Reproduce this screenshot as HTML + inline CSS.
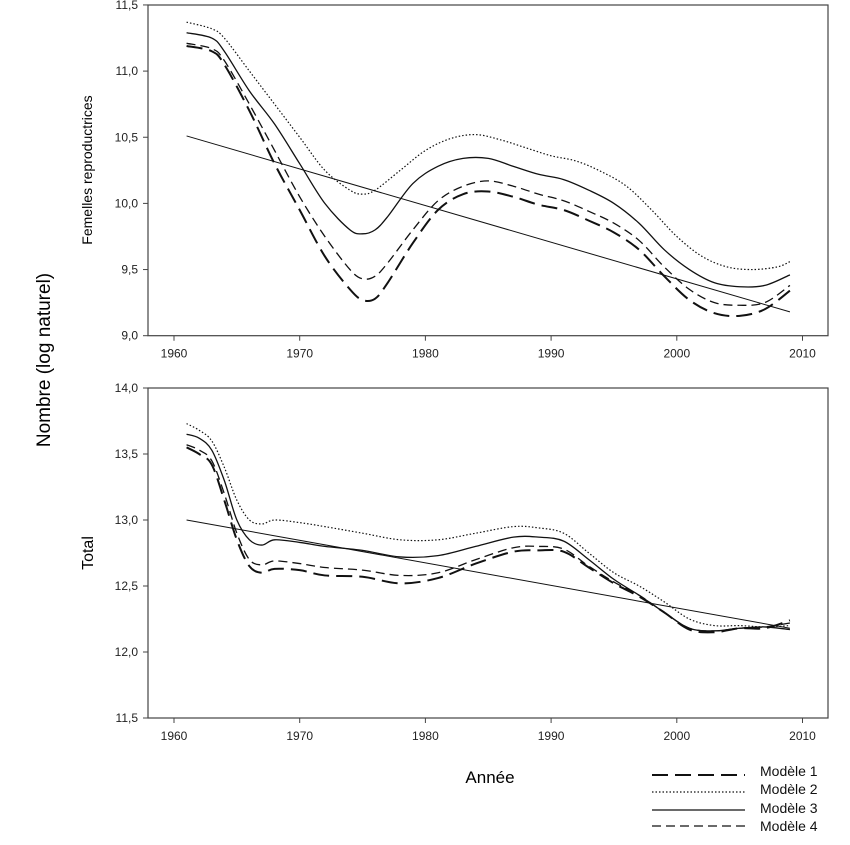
<!DOCTYPE html>
<html><head><meta charset="utf-8"><style>
body{margin:0;background:#fff;width:850px;height:840px;overflow:hidden}
svg{font-family:"Liberation Sans",sans-serif}
</style></head><body>
<svg id="s" width="850" height="840" xmlns="http://www.w3.org/2000/svg">
<rect x="148" y="5" width="680" height="330.7" fill="none" stroke="#444" stroke-width="1.2"/>
<rect x="148" y="388" width="680" height="330" fill="none" stroke="#444" stroke-width="1.2"/>
<g id="ax" font-size="12" fill="#222"></g>
<g id="series" fill="none" stroke="#111"></g>
<text x="92" y="170" font-size="14" transform="rotate(-90 92 170)" text-anchor="middle">Femelles reproductrices</text>
<text x="93" y="553" font-size="16" transform="rotate(-90 93 553)" text-anchor="middle">Total</text>
<text x="50" y="360" font-size="19" transform="rotate(-90 50 360)" text-anchor="middle">Nombre (log naturel)</text>
<text x="490" y="783" font-size="17" text-anchor="middle">Année</text>
<g font-size="14" fill="#111">
<text x="760" y="776">Modèle 1</text><text x="760" y="794">Modèle 2</text>
<text x="760" y="813">Modèle 3</text><text x="760" y="831">Modèle 4</text></g>
<g stroke="#111" fill="none">
<line x1="652" y1="775" x2="745" y2="775" stroke-width="2" stroke-dasharray="16,7"/>
<line x1="652" y1="792" x2="745" y2="792" stroke-width="1.2" stroke-dasharray="1.5,2"/>
<line x1="652" y1="810" x2="745" y2="810" stroke-width="1.3"/>
<line x1="652" y1="826" x2="745" y2="826" stroke-width="1.3" stroke-dasharray="9,5"/>
</g>
</svg>
<script>
(function(){
const NS="http://www.w3.org/2000/svg";
function X(yr){return 174+(yr-1960)*12.57}
function Yt(v){return 335.7-(v-9)*132.3}
function Yb(v){return 718-(v-11.5)*132}
const ax=document.getElementById('ax'),ser=document.getElementById('series');
function el(t,a,p,txt){const e=document.createElementNS(NS,t);for(const k in a)e.setAttribute(k,a[k]);if(txt!==undefined)e.textContent=txt;p.appendChild(e);return e}
[[335.7,Yt,[9,9.5,10,10.5,11,11.5]],[718,Yb,[11.5,12,12.5,13,13.5,14]]].forEach(function(c){
 const b=c[0],Y=c[1],vals=c[2];
 for(let yr=1960;yr<=2010;yr+=10){const x=X(yr);el('line',{x1:x,y1:b,x2:x,y2:b+5,stroke:'#444'},ax);el('text',{x:x,y:b+22,'text-anchor':'middle'},ax,String(yr))}
 vals.forEach(function(v){const y=Y(v);el('line',{x1:143,y1:y,x2:148,y2:y,stroke:'#444'},ax);el('text',{x:138,y:y+4,'text-anchor':'end'},ax,v.toFixed(1).replace('.',','))});
});
function path(pts,Y){const p=pts.map(function(q){return [X(q[0]),Y(q[1])]});let d='M'+p[0][0]+','+p[0][1];
 for(let i=0;i<p.length-1;i++){const p0=p[i-1]||p[i],p1=p[i],p2=p[i+1],p3=p[i+2]||p2;
 d+=' C'+(p1[0]+(p2[0]-p0[0])/6)+','+(p1[1]+(p2[1]-p0[1])/6)+' '+(p2[0]-(p3[0]-p1[0])/6)+','+(p2[1]-(p3[1]-p1[1])/6)+' '+p2[0]+','+p2[1]}return d}
function pr(a){const r=[];for(let i=0;i<a.length;i+=2)r.push([a[i],a[i+1]]);return r}
const st={1:{'stroke-width':2,'stroke-dasharray':'16,7'},2:{'stroke-width':1.2,'stroke-dasharray':'1.5,2'},3:{'stroke-width':1.3},4:{'stroke-width':1.3,'stroke-dasharray':'9,5'}};
const dTop={
3:[1961,11.29,1963,11.25,1964,11.15,1966,10.85,1968,10.6,1970,10.3,1972,10.0,1974,9.8,1975,9.77,1976,9.8,1977,9.9,1979,10.15,1981,10.28,1983,10.34,1985,10.34,1987,10.28,1989,10.22,1991,10.18,1993,10.1,1995,10.0,1997,9.85,1999,9.65,2001,9.5,2003,9.4,2005,9.37,2007,9.38,2009,9.46],
2:[1961,11.37,1963,11.32,1964,11.25,1966,11.0,1968,10.75,1970,10.5,1972,10.25,1974,10.1,1975,10.07,1976,10.1,1978,10.25,1980,10.4,1982,10.49,1984,10.52,1986,10.48,1988,10.42,1990,10.36,1992,10.32,1994,10.24,1996,10.13,1998,9.95,2000,9.75,2002,9.6,2004,9.52,2006,9.5,2008,9.52,2009,9.56],
1:[1961,11.19,1963,11.15,1964,11.05,1966,10.7,1968,10.3,1970,9.95,1972,9.6,1974,9.35,1975,9.27,1976,9.28,1977,9.4,1979,9.7,1981,9.95,1983,10.07,1985,10.09,1987,10.05,1989,9.99,1991,9.95,1993,9.87,1995,9.78,1997,9.65,1999,9.45,2001,9.27,2003,9.17,2005,9.15,2007,9.2,2009,9.34],
4:[1961,11.21,1963,11.17,1964,11.08,1966,10.75,1968,10.4,1970,10.05,1972,9.75,1974,9.5,1975,9.43,1976,9.45,1977,9.55,1979,9.8,1981,10.02,1983,10.13,1985,10.17,1987,10.13,1989,10.07,1991,10.02,1993,9.94,1995,9.85,1997,9.72,1999,9.52,2001,9.35,2003,9.25,2005,9.23,2007,9.25,2009,9.38]};
const dBot={
2:[1961,13.73,1962,13.68,1963,13.6,1964,13.4,1965,13.15,1966,13.0,1967,12.97,1968,13.0,1970,12.98,1972,12.95,1975,12.9,1978,12.85,1981,12.85,1984,12.9,1987,12.95,1989,12.94,1991,12.9,1993,12.75,1995,12.6,1997,12.5,1999,12.38,2001,12.25,2003,12.2,2005,12.2,2007,12.19,2009,12.2],
3:[1961,13.65,1962,13.62,1963,13.53,1964,13.3,1965,13.0,1966,12.85,1967,12.81,1968,12.85,1970,12.83,1972,12.8,1975,12.77,1978,12.72,1981,12.73,1984,12.8,1987,12.87,1989,12.87,1991,12.84,1993,12.7,1995,12.55,1997,12.43,1999,12.3,2001,12.18,2003,12.16,2005,12.18,2007,12.19,2009,12.17],
1:[1961,13.55,1962,13.5,1963,13.42,1964,13.15,1965,12.85,1966,12.65,1967,12.6,1968,12.63,1970,12.62,1972,12.58,1975,12.57,1978,12.52,1981,12.56,1984,12.67,1987,12.76,1989,12.77,1991,12.76,1993,12.64,1995,12.52,1997,12.42,1999,12.3,2001,12.17,2003,12.15,2005,12.18,2007,12.18,2009,12.24],
4:[1961,13.57,1962,13.53,1963,13.45,1964,13.2,1965,12.9,1966,12.7,1967,12.66,1968,12.69,1970,12.67,1972,12.64,1975,12.62,1978,12.58,1981,12.6,1984,12.7,1987,12.79,1989,12.8,1991,12.78,1993,12.65,1995,12.53,1997,12.43,1999,12.3,2001,12.18,2003,12.16,2005,12.18,2007,12.19,2009,12.22]};
for(const k in dTop)el('path',Object.assign({d:path(pr(dTop[k]),Yt)},st[k]),ser);
for(const k in dBot)el('path',Object.assign({d:path(pr(dBot[k]),Yb)},st[k]),ser);
el('line',{x1:X(1961),y1:Yt(10.51),x2:X(2009),y2:Yt(9.18),'stroke-width':1},ser);
el('line',{x1:X(1961),y1:Yb(13.0),x2:X(2009),y2:Yb(12.18),'stroke-width':1},ser);
})();
</script>
</body></html>
